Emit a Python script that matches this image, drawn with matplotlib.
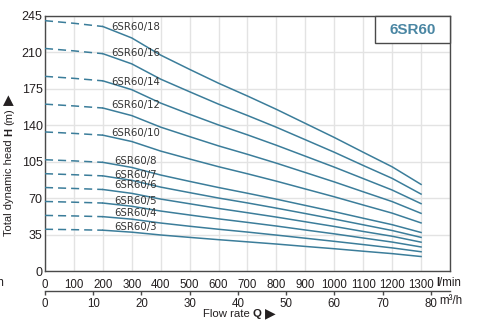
import matplotlib
matplotlib.use("Agg")
import matplotlib.pyplot as plt
from matplotlib.patches import Rectangle

plt.rcParams['font.family'] = ['Liberation Sans', 'DejaVu Sans']

# ---- data (flow in l/min, head in m) ----
flow_lmin = [0, 100, 200, 300, 400, 500, 600, 700, 800, 900, 1000, 1100, 1200, 1300]
h_18 = [240.5, 238.0, 234.9, 223.9, 207.4, 193.7, 180.4, 168.1, 155.3, 141.8, 128.3, 114.1, 100.1, 83.2]
h_16 = [213.8, 211.5, 208.8, 199.0, 184.3, 172.2, 160.3, 149.4, 138.1, 126.1, 114.1, 101.4, 89.0, 73.9]
h_14 = [187.0, 185.1, 182.7, 174.2, 161.3, 150.6, 140.3, 130.8, 120.8, 110.3, 99.8, 88.8, 77.8, 64.7]
h_12 = [160.3, 158.6, 156.6, 149.3, 138.2, 129.1, 120.2, 112.1, 103.6, 94.6, 85.6, 76.1, 66.7, 55.4]
h_10 = [133.6, 132.2, 130.5, 124.4, 115.2, 107.6, 100.2, 93.4, 86.3, 78.8, 71.3, 63.4, 55.6, 46.2]
h_8 = [106.9, 105.8, 104.4, 99.5, 92.2, 86.1, 80.2, 74.7, 69.0, 63.0, 57.0, 50.7, 44.5, 37.0]
h_7 = [93.5, 92.5, 91.4, 87.1, 80.6, 75.3, 70.1, 65.4, 60.4, 55.2, 49.9, 44.4, 38.9, 32.3]
h_6 = [80.2, 79.3, 78.3, 74.6, 69.1, 64.6, 60.1, 56.0, 51.8, 47.3, 42.8, 38.0, 33.4, 27.7]
h_5 = [66.8, 66.1, 65.3, 62.2, 57.6, 53.8, 50.1, 46.7, 43.2, 39.4, 35.7, 31.7, 27.8, 23.1]
h_4 = [53.4, 52.9, 52.2, 49.8, 46.1, 43.0, 40.1, 37.4, 34.5, 31.5, 28.5, 25.4, 22.2, 18.5]
h_3 = [40.1, 39.7, 39.2, 37.3, 34.6, 32.3, 30.1, 28.0, 25.9, 23.6, 21.4, 19.0, 16.7, 13.9]

models = ['6SR60/18', '6SR60/16', '6SR60/14', '6SR60/12', '6SR60/10',
          '6SR60/8', '6SR60/7', '6SR60/6', '6SR60/5', '6SR60/4', '6SR60/3']
heads = [h_18, h_16, h_14, h_12, h_10, h_8, h_7, h_6, h_5, h_4, h_3]
label_q = [228, 228, 228, 228, 228, 241, 241, 241, 241, 241, 241]
label_h = [234, 209, 182, 159.5, 132.5, 106, 92.2, 82.6, 67.6, 55.5, 42.7]

y_ticks = [0, 35, 70, 105, 140, 175, 210, 245]
x_ticks_lmin = [0, 100, 200, 300, 400, 500, 600, 700, 800, 900, 1000, 1100, 1200, 1300]
x_ticks_m3h = [0, 10, 20, 30, 40, 50, 60, 70, 80]
title = '6SR60'

# ---- figure ----
W, H = 481, 323
fig = plt.figure(figsize=(W / 100, H / 100), dpi=100)
ax = fig.add_axes([45 / W, 1 - 271 / H, (450 - 45) / W, (271 - 16) / H])

curve_c = '#3b7d9a'
text_c = '#231f20'
lw = 1.1
n_dash = 3  # points 0..200 l/min dashed
xfs = 8.3   # x tick label size

for name, h, lq, lh in zip(models, heads, label_q, label_h):
    ax.plot(flow_lmin[:n_dash], h[:n_dash], color=curve_c, lw=lw,
            dashes=(5.8 / lw, 3.6 / lw), solid_capstyle='butt', zorder=3)
    ax.plot(flow_lmin[n_dash - 1:], h[n_dash - 1:], color=curve_c, lw=lw, zorder=3)
    ax.text(lq, lh, name, fontsize=7.3, family='DejaVu Sans', color='#333333',
            ha='left', va='center', zorder=4)

ax.set_xlim(0, 1400)
ax.set_ylim(0, 245)
ax.set_yticks(y_ticks)
ax.set_xticks(x_ticks_lmin + [1400])
ax.set_xticklabels([str(v) for v in x_ticks_lmin] + [''])
ax.grid(True, color='#e3e3e3', lw=1.0, zorder=0)
ax.set_axisbelow(True)
ax.tick_params(axis='both', length=0, colors=text_c)
ax.tick_params(axis='x', pad=5.6, labelsize=xfs)
ax.tick_params(axis='y', pad=1.7, labelsize=9)
for s in ax.spines.values():
    s.set_color('#4a4a4a')
    s.set_linewidth(1.0)

# secondary m3/h axis
sec = ax.secondary_xaxis(-19.7 / 255, functions=(lambda q: q * 0.06, lambda m: m / 0.06))
sec.set_xticks(x_ticks_m3h)
sec.set_xticklabels([str(v) for v in x_ticks_m3h])
sec.tick_params(axis='x', direction='out', length=3, width=1, color='#4a4a4a',
                labelsize=xfs, labelcolor=text_c, pad=2.3)
sec.spines['bottom'].set_color('#4a4a4a')
sec.spines['bottom'].set_linewidth(1.0)

renderer = fig.canvas.get_renderer()


def text_width(s, **kw):
    t = fig.text(0, 0, s, **kw)
    w = t.get_window_extent(renderer).width
    t.remove()
    return w


def rich(bx, by, pieces, size, vertical=False):
    """pieces: list of (text, weight, family, size). bx, by: baseline centre, px from top-left."""
    gap = text_width('a a', fontsize=size) - text_width('aa', fontsize=size)
    widths = [text_width(s, fontsize=sz, fontweight=wt, family=fam)
              for s, wt, fam, sz in pieces]
    total = sum(widths) + gap * (len(pieces) - 1)
    pos = -total / 2
    for (s, wt, fam, sz), w in zip(pieces, widths):
        if vertical:
            fig.text(bx / W, 1 - (by - pos) / H, s, fontsize=sz, fontweight=wt,
                     family=fam, color=text_c, rotation=90, rotation_mode='anchor',
                     ha='left', va='baseline')
        else:
            fig.text((bx + pos) / W, 1 - by / H, s, fontsize=sz, fontweight=wt,
                     family=fam, color=text_c, ha='left', va='baseline')
        pos += w + gap


LS = ['Liberation Sans', 'DejaVu Sans']
DJ = ['DejaVu Sans']


# unit texts
def unit_lmin(x_left, y):
    wl = text_width('l', fontsize=xfs, fontweight='bold')
    fig.text(x_left / W, 1 - y / H, 'l', fontsize=xfs, fontweight='bold', color=text_c,
             ha='left', va='center')
    fig.text((x_left + wl) / W, 1 - y / H, '/min', fontsize=xfs, color=text_c,
             ha='left', va='center')


unit_lmin(436, 282.5)
fig.text(3.5 / W, 1 - 282.5 / H, '/min', fontsize=xfs, color=text_c, ha='right', va='center')
fig.text(439.5 / W, 1 - 301.5 / H, 'm³/h', fontsize=xfs, color=text_c, ha='left', va='center')

# axis titles
rich(12, 165, [('Total dynamic head', 'normal', LS, 8), ('H', 'bold', LS, 8),
               ('(m)', 'normal', LS, 8), ('▶', 'normal', DJ, 10)], 8, vertical=True)
rich(239, 317, [('Flow rate', 'normal', LS, 8.2), ('Q', 'bold', LS, 8.2),
                ('▶', 'normal', DJ, 10)], 8.2)

# title box
box = Rectangle((375 / W, 1 - 43.3 / H), (450 - 375) / W, (43.3 - 16) / H,
                transform=fig.transFigure, facecolor='white', edgecolor='#4a4a4a',
                lw=1.0, zorder=5)
fig.add_artist(box)
fig.text(412.5 / W, 1 - 29.8 / H, title, fontsize=11, fontweight='bold',
         color='#4a86a3', ha='center', va='center', zorder=6)

fig.savefig('out.png', dpi=100)
